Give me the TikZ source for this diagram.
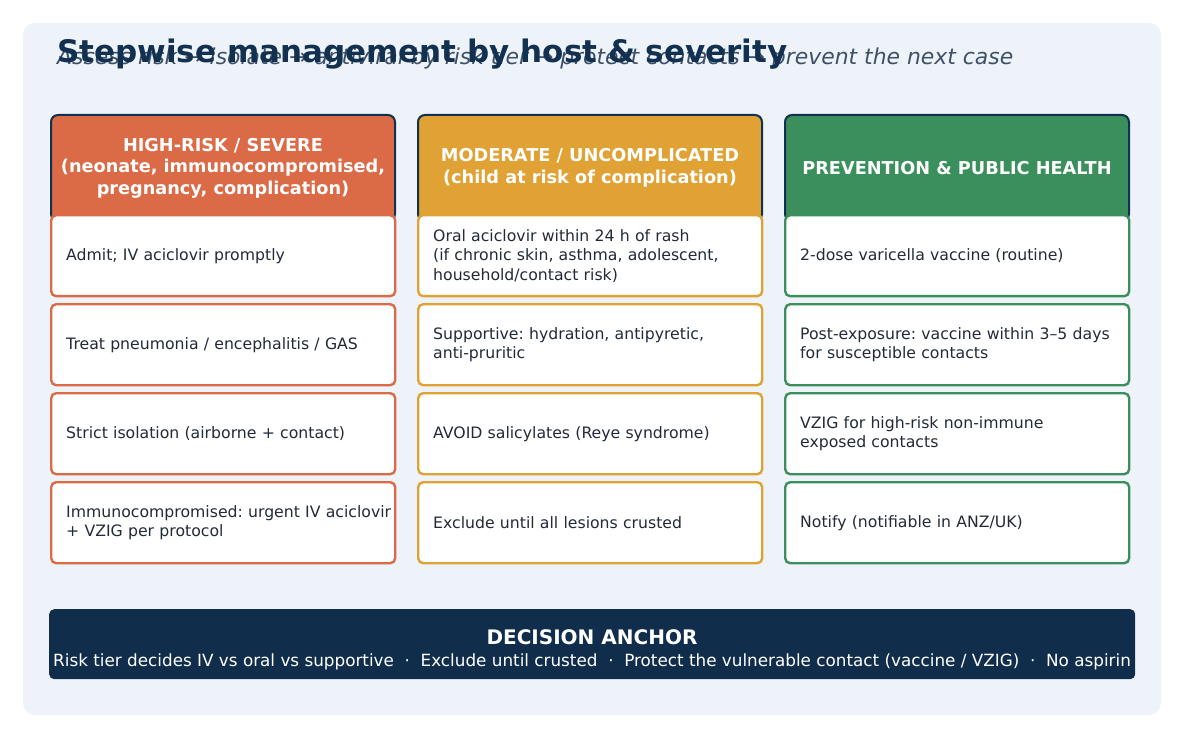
\documentclass[tikz,border=0pt]{standalone}
\usepackage{fontspec}
\setmainfont{DejaVu Sans}
\usetikzlibrary{positioning}
\frenchspacing
\definecolor{navy}{HTML}{12304F}
\definecolor{barnavy}{HTML}{102E4C}
\definecolor{panelbg}{HTML}{EEF3F9}
\definecolor{subgray}{HTML}{3E5068}
\definecolor{ink}{HTML}{222B36}
\definecolor{hiorange}{HTML}{DB6A47}
\definecolor{modgold}{HTML}{E0A234}
\definecolor{prevgreen}{HTML}{3A8F5D}
\tikzset{
  hdr/.style={draw=navy, line width=2pt, fill=#1, rounded corners=7pt, minimum width=344pt, minimum height=106pt, anchor=north west, inner sep=0pt, text=white, font=\bfseries\fontsize{17.7}{21.5}\selectfont, align=center},
  card/.style={draw=#1, line width=2.4pt, fill=white, rounded corners=5pt, minimum height=81pt, text width=314pt, inner xsep=15pt, inner ysep=0pt, anchor=north west, align=left, font=\fontsize{15.7}{19.5}\selectfont, text=ink},
}

\begin{document}
\begin{tikzpicture}[x=1pt, y=-1pt]
			%%%%% START %%%%%
			
			\useasboundingbox (0, 0) rectangle (1184, 738);
			\fill[white] (0, 0) rectangle (1184, 738);
			\fill[panelbg, rounded corners=12pt] (23, 23) rectangle (1161, 715);
			
			\node[anchor=base west, text=subgray, font=\itshape\fontsize{21.9}{24}\selectfont, inner sep=0pt] (subtitle) at (57, 65) {Assess risk → isolate → antiviral by risk tier → protect contacts → prevent the next case};
			\node[anchor=base west, text=navy, font=\bfseries\fontsize{31}{34}\selectfont, inner sep=0pt] (title) at (57, 63) {Stepwise management by host \& severity};
			
			\node[hdr=hiorange] (high) at (50, 114) {HIGH-RISK / SEVERE\\(neonate, immunocompromised,\\pregnancy, complication)};
			\node[hdr=modgold] (moderate) at (417, 114) {MODERATE / UNCOMPLICATED\\(child at risk of complication)};
			\node[hdr=prevgreen] (prevention) at (784, 114) {PREVENTION \& PUBLIC HEALTH};
			
			\node[card=hiorange] (high1) at (50, 214) {Admit; IV aciclovir promptly};
			\node[card=hiorange] (high2) at (50, 303) {Treat pneumonia / encephalitis / GAS};
			\node[card=hiorange] (high3) at (50, 392) {Strict isolation (airborne + contact)};
			\node[card=hiorange] (high4) at (50, 481) {\mbox{Immunocompromised: urgent IV aciclovir}\\+ VZIG per protocol};
			
			\node[card=modgold] (moderate1) at (417, 214) {Oral aciclovir within 24 h of rash\\(if chronic skin, asthma, adolescent,\\household/contact risk)};
			\node[card=modgold] (moderate2) at (417, 303) {Supportive: hydration, antipyretic,\\anti-pruritic};
			\node[card=modgold] (moderate3) at (417, 392) {AVOID salicylates (Reye syndrome)};
			\node[card=modgold] (moderate4) at (417, 481) {Exclude until all lesions crusted};
			
			\node[card=prevgreen] (prevention1) at (784, 214) {2-dose varicella vaccine (routine)};
			\node[card=prevgreen] (prevention2) at (784, 303) {Post-exposure: vaccine within 3–5 days\\for susceptible contacts};
			\node[card=prevgreen] (prevention3) at (784, 392) {VZIG for high-risk non-immune\\exposed contacts};
			\node[card=prevgreen] (prevention4) at (784, 481) {Notify (notifiable in ANZ/UK)};
			
			\node[fill=barnavy, rounded corners=5pt, minimum width=1086pt, minimum height=70pt, anchor=north west, inner sep=0pt] (anchorbar) at (49, 609) {};
			\node[anchor=base, text=white, font=\bfseries\fontsize{20}{22}\selectfont, inner sep=0pt] (anchortitle) at (592, 644) {DECISION ANCHOR};
			\node[anchor=base, text=white, font=\fontsize{16.8}{19}\selectfont, inner sep=0pt] (anchorline) at (592, 666) {Risk tier decides IV vs oral vs supportive \ · \ Exclude until crusted \ · \ Protect the vulnerable contact (vaccine / VZIG) \ · \ No aspirin};
			
			%%%%% END %%%%%
\end{tikzpicture}
\end{document}
